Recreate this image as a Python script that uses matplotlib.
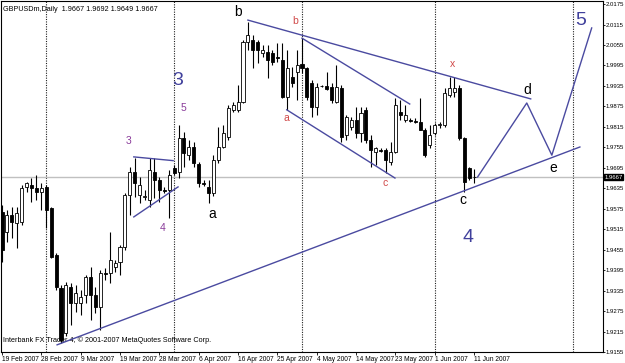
import matplotlib
matplotlib.use('Agg')
import matplotlib.pyplot as plt
import numpy as np
import pandas as pd

plt.rcParams['font.family'] = ['Liberation Sans', 'DejaVu Sans']

# daily GBPUSD bars (Sun-Fri sessions) starting 19 Feb 2007
opens = [1.9566, 1.9507, 1.9557, 1.9534, 1.9537, 1.9639, 1.9645, 1.9636, 1.9624, 1.9639,
         1.9578, 1.9440, 1.9343, 1.9211, 1.9346, 1.9299, 1.9299, 1.9323, 1.9375, 1.9323,
         1.9287, 1.9387, 1.9387, 1.9405, 1.9419, 1.9463, 1.9616, 1.9683, 1.9616, 1.9610,
         1.9601, 1.9683, 1.9660, 1.9630, 1.9630, 1.9695, 1.9683, 1.9783, 1.9733, 1.9756,
         1.9706, 1.9651, 1.9639, 1.9622, 1.9718, 1.9756, 1.9786, 1.9865, 1.9865, 1.9888,
         2.0064, 2.0070, 2.0064, 2.0032, 2.0035, 2.0032, 2.0020, 2.0011, 1.9903, 1.9961,
         1.9976, 1.9999, 1.9988, 1.9944, 1.9873, 1.9935, 1.9935, 1.9932, 1.9888, 1.9929,
         1.9791, 1.9815, 1.9835, 1.9797, 1.9865, 1.9777, 1.9742, 1.9747, 1.9747, 1.9712,
         1.9742, 1.9859, 1.9835, 1.9835, 1.9832, 1.9830, 1.9806, 1.9762, 1.9797, 1.9821,
         1.9821, 1.9909, 1.9917, 1.9929, 1.9783, 1.9695, 1.9667]
highs = [1.9586, 1.9572, 1.9580, 1.9580, 1.9645, 1.9654, 1.9665, 1.9674, 1.9651, 1.9645,
         1.9580, 1.9446, 1.9352, 1.9361, 1.9358, 1.9352, 1.9337, 1.9381, 1.9405, 1.9346,
         1.9396, 1.9402, 1.9507, 1.9425, 1.9469, 1.9622, 1.9698, 1.9724, 1.9668, 1.9630,
         1.9724, 1.9724, 1.9668, 1.9639, 1.9689, 1.9704, 1.9821, 1.9800, 1.9777, 1.9771,
         1.9712, 1.9660, 1.9660, 1.9733, 1.9815, 1.9821, 1.9879, 1.9888, 1.9938, 2.0070,
         2.0123, 2.0084, 2.0070, 2.0055, 2.0055, 2.0040, 2.0061, 2.0061, 2.0040, 1.9991,
         2.0040, 2.0076, 1.9991, 1.9953, 1.9944, 1.9938, 1.9976, 1.9944, 1.9997, 1.9938,
         1.9850, 1.9844, 1.9873, 1.9873, 1.9873, 1.9791, 1.9756, 1.9753, 1.9753, 1.9771,
         1.9900, 1.9894, 1.9879, 1.9841, 1.9841, 1.9900, 1.9812, 1.9821, 1.9827, 1.9830,
         1.9929, 1.9961, 1.9961, 1.9938, 1.9786, 1.9698, 1.9692]
lows = [1.9419, 1.9478, 1.9490, 1.9460, 1.9528, 1.9624, 1.9595, 1.9601, 1.9572, 1.9519,
        1.9431, 1.9337, 1.9182, 1.9203, 1.9235, 1.9273, 1.9264, 1.9299, 1.9249, 1.9270,
        1.9220, 1.9367, 1.9358, 1.9390, 1.9381, 1.9454, 1.9557, 1.9610, 1.9592, 1.9601,
        1.9580, 1.9607, 1.9595, 1.9622, 1.9548, 1.9674, 1.9665, 1.9698, 1.9718, 1.9698,
        1.9639, 1.9642, 1.9592, 1.9613, 1.9709, 1.9753, 1.9777, 1.9859, 1.9859, 1.9885,
        2.0040, 1.9988, 2.0002, 2.0020, 1.9958, 1.9997, 2.0005, 1.9900, 1.9865, 1.9932,
        1.9894, 1.9973, 1.9894, 1.9844, 1.9850, 1.9932, 1.9923, 1.9885, 1.9885, 1.9771,
        1.9777, 1.9806, 1.9783, 1.9771, 1.9768, 1.9698, 1.9704, 1.9742, 1.9680, 1.9704,
        1.9739, 1.9835, 1.9830, 1.9830, 1.9827, 1.9806, 1.9727, 1.9753, 1.9791, 1.9812,
        1.9815, 1.9903, 1.9903, 1.9777, 1.9624, 1.9660, 1.9649]
closes = [1.9454, 1.9557, 1.9537, 1.9563, 1.9636, 1.9651, 1.9636, 1.9624, 1.9636, 1.9572,
          1.9434, 1.9346, 1.9191, 1.9352, 1.9299, 1.9329, 1.9317, 1.9375, 1.9323, 1.9287,
          1.9387, 1.9384, 1.9425, 1.9416, 1.9463, 1.9616, 1.9683, 1.9651, 1.9645, 1.9613,
          1.9689, 1.9660, 1.9630, 1.9627, 1.9674, 1.9680, 1.9783, 1.9739, 1.9756, 1.9709,
          1.9651, 1.9648, 1.9622, 1.9718, 1.9756, 1.9797, 1.9871, 1.9879, 1.9888, 2.0064,
          2.0084, 2.0040, 2.0040, 2.0040, 2.0011, 2.0005, 2.0018, 1.9903, 1.9988, 1.9944,
          1.9997, 1.9988, 1.9903, 1.9873, 1.9932, 1.9934, 1.9926, 1.9894, 1.9932, 1.9786,
          1.9844, 1.9835, 1.9797, 1.9856, 1.9777, 1.9747, 1.9753, 1.9745, 1.9718, 1.9742,
          1.9879, 1.9850, 1.9850, 1.9833, 1.9830, 1.9806, 1.9733, 1.9791, 1.9821, 1.9823,
          1.9915, 1.9929, 1.9929, 1.9783, 1.9654, 1.9665, 1.9667]

price_ticks = [2.0175, 2.0115, 2.0055, 1.9995, 1.9935, 1.9875, 1.9815, 1.9755, 1.9695,
               1.9635, 1.9575, 1.9515, 1.9455, 1.9395, 1.9335, 1.9275, 1.9215, 1.9155]
last_price = 1.9667

# drawn objects: (bar index, price) points
support_line = ([11.2, 117.5], [1.9176, 1.9756])
bd_line = ([50.0, 107.5], [2.0128, 1.9897])
channel_top = ([61.0, 82.9], [2.0075, 1.9882])
channel_bot = ([57.9, 79.9], [1.9865, 1.9665])
triangle_top = ([26.8, 34.8], [1.9727, 1.9716])
triangle_bot = ([26.8, 35.8], [1.9551, 1.9639])
projection = ([96.7, 106.7, 111.8, 119.9], [1.9668, 1.9885, 1.9732, 2.0105])

NAVY = '#40409c'
RED = '#d04848'
PURPLE = '#8a3c9a'
labels = [
    ('b', 47.9, 2.0151, 'black', 10),
    ('a', 42.7, 1.9560, 'black', 10),
    ('c', 93.7, 1.9601, 'black', 10),
    ('d', 106.7, 1.9923, 'black', 10),
    ('e', 112.0, 1.9694, 'black', 10),
    ('b', 59.6, 2.0125, RED, 7.5),
    ('a', 57.9, 1.9841, RED, 7.5),
    ('c', 77.8, 1.9650, RED, 7.5),
    ('x', 91.7, 1.9999, RED, 7.5),
    ('3', 25.8, 1.9774, PURPLE, 7.5),
    ('4', 32.7, 1.9519, PURPLE, 7.5),
    ('5', 36.8, 1.9870, PURPLE, 7.5),
    ('3', 35.8, 1.9952, NAVY, 14),
    ('4', 94.7, 1.9492, NAVY, 14),
    ('5', 117.7, 2.0128, NAVY, 14),
]

n = len(opens)
dates = pd.bdate_range('2007-02-19', periods=n, freq='C', weekmask='Sun Mon Tue Wed Thu Fri')
future = pd.date_range(dates[-1] + pd.Timedelta(days=1), periods=30, freq='D')
all_dates = dates.append(future)

fig = plt.figure(figsize=(6.25, 3.63), dpi=100)
ax = fig.add_axes([1 / 625, 11 / 363, 602 / 625, 351 / 363])
ax.set_xlim(-0.2, 122.2)
ax.set_ylim(1.9155, 2.0184)

# month separators
for i in range(1, len(all_dates)):
    if all_dates[i].month != all_dates[i - 1].month:
        ax.axvline(i, color='#202020', lw=0.8, ls=(0, (1, 1.2)), zorder=1)

ax.axhline(last_price, color='#c0c0c0', lw=1.0, zorder=1)

x = np.arange(n)
o = np.array(opens)
c = np.array(closes)
ax.vlines(x, lows, highs, color='black', lw=0.8, zorder=2)
bull = c >= o
ax.bar(x, np.abs(c - o), bottom=np.minimum(o, c), width=0.62,
       color=np.where(bull, 'white', 'black'), edgecolor='black', linewidth=0.6, zorder=3)

for xs, ys in [support_line, bd_line, channel_top, channel_bot, triangle_top, triangle_bot, projection]:
    ax.plot(xs, ys, color='#4a4aa0', lw=1.0, zorder=4)

for txt, xi, yi, col, size in labels:
    ax.text(xi, yi, txt, color=col, fontsize=size, ha='center', va='center', zorder=5)

ax.text(0.004, 0.985, 'GBPUSDm,Daily  1.9667 1.9692 1.9649 1.9667', transform=ax.transAxes,
        fontsize=5.2, ha='left', va='top')
ax.text(0.004, 0.035, 'Interbank FX Trader 4, \u00a9 2001-2007 MetaQuotes Software Corp.',
        transform=ax.transAxes, fontsize=5.2, ha='left', va='center')

# price axis
ax.yaxis.tick_right()
ax.set_yticks(price_ticks)
ax.set_yticklabels([f'{p:.4f}' for p in price_ticks])
ax.tick_params(axis='y', direction='out', length=1.5, width=0.6, labelsize=4.3, pad=0.5)
ax.text(1.0025, last_price, f'{last_price:.4f}', transform=ax.get_yaxis_transform(),
        fontsize=4.3, color='white', ha='left', va='center',
        bbox=dict(boxstyle='square,pad=0.08', fc='black', ec='black'))

# date axis: label every 8 bars
tick_idx = list(range(0, n, 8))
ax.set_xticks(tick_idx)
ax.set_xticklabels([f'{dates[i].day} {dates[i].strftime("%b %Y")}' for i in tick_idx],
                   ha='left')
ax.tick_params(axis='x', direction='out', length=2, width=0.6, labelsize=4.8, pad=0.8)

for s in ax.spines.values():
    s.set_linewidth(0.8)

fig.savefig('out.png', dpi=100)
